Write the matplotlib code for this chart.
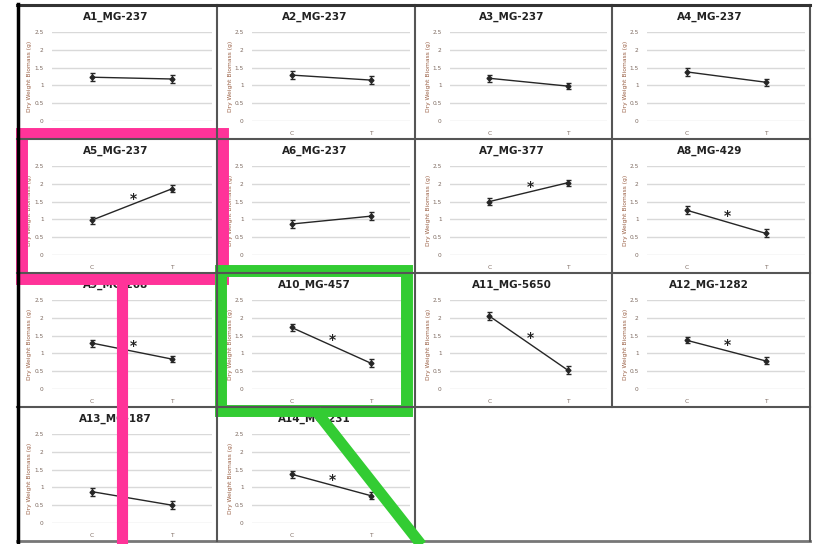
import matplotlib.pyplot as plt
from matplotlib.lines import Line2D
from matplotlib.patches import Rectangle

# dry weight biomass per isolate, control (C) vs treatment (T)
titles = ['A1_MG-237', 'A2_MG-237', 'A3_MG-237', 'A4_MG-237',
          'A5_MG-237', 'A6_MG-237', 'A7_MG-377', 'A8_MG-429',
          'A9_MG-268', 'A10_MG-457', 'A11_MG-5650', 'A12_MG-1282',
          'A13_MG-187', 'A14_MG-231']
control = [1.23, 1.29, 1.20, 1.38, 0.98, 0.87, 1.50, 1.26, 1.29, 1.73, 2.05, 1.37, 0.88, 1.37]
treated = [1.18, 1.15, 0.98, 1.09, 1.86, 1.09, 2.03, 0.61, 0.84, 0.73, 0.53, 0.79, 0.50, 0.77]
control_err = [0.12, 0.11, 0.10, 0.11, 0.10, 0.12, 0.09, 0.11, 0.10, 0.10, 0.12, 0.09, 0.11, 0.10]
treated_err = [0.10, 0.12, 0.09, 0.10, 0.10, 0.11, 0.09, 0.11, 0.09, 0.10, 0.11, 0.10, 0.12, 0.10]
significant = [False, False, False, False, True, False, True, True,
               True, True, True, True, False, True]
groups = ['C', 'T']
yticks = [0, 0.5, 1, 1.5, 2, 2.5]
ytick_labels = ['0', '0.5', '1', '1.5', '2', '2.5']

W, H = 813, 544
fig = plt.figure(figsize=(W / 100, H / 100), dpi=100)

col_x = [17, 217, 415, 612, 810]
row_y = [5, 139, 273, 407, 541]


def px_box(x0, y0, x1, y1):
    return [x0 / W, 1 - y1 / H, (x1 - x0) / W, (y1 - y0) / H]


tick_col = '#7d6a60'
for i, name in enumerate(titles):
    r, c = divmod(i, 4)
    x0, x1 = col_x[c], col_x[c + 1]
    y0 = row_y[r]
    ax = fig.add_axes(px_box(x0 + 35, y0 + 27, x1 - 5, y0 + 116))
    ax.set_xlim(-0.5, 1.5)
    ax.set_ylim(0, 2.5)
    for s in ax.spines.values():
        s.set_visible(False)
    ax.set_yticks(yticks)
    ax.set_yticklabels(ytick_labels)
    ax.set_xticks([0, 1])
    ax.set_xticklabels(groups)
    ax.tick_params(length=0, labelsize=4.2, labelcolor=tick_col, pad=6)
    ax.tick_params(axis='x', pad=7)
    ax.grid(axis='y', color='#d9d9d9', lw=1)
    ax.set_axisbelow(True)
    ax.errorbar([0, 1], [control[i], treated[i]],
                yerr=[control_err[i], treated_err[i]],
                color='#262626', lw=1.0, elinewidth=1, capsize=1.8,
                marker='D', ms=2.5)
    if significant[i]:
        mid = (control[i] + treated[i]) / 2
        ax.text(0.52, mid + 0.15, '*', fontsize=10, fontweight='bold',
                ha='center', va='center', color='#222222')
    fig.text((x0 + x1) / 2 / W - 0.002, 1 - (y0 + 12) / H, name,
             fontsize=7.5, fontweight='bold', ha='center', va='center',
             color='#222222')
    fig.text((x0 + 13) / W, 1 - (y0 + 71) / H, 'Dry Weight Biomass (g)',
             fontsize=4.3, rotation=90, ha='center', va='center',
             color='#9a6045')

# frame, panel dividers and highlight marks
top = fig.add_axes([0, 0, 1, 1], zorder=10)
top.set_xlim(0, W)
top.set_ylim(H, 0)
top.axis('off')
top.patch.set_alpha(0)

grid_col = '#555555'
for yy in row_y[1:4]:
    top.add_line(Line2D([17, 810], [yy, yy], color=grid_col, lw=1.5))
top.add_line(Line2D([17, 810], [541, 541], color='#777777', lw=2))
for xx in col_x[1:4]:
    yb = 541 if xx < 600 else 407
    top.add_line(Line2D([xx, xx], [5, yb], color=grid_col, lw=1.5))
top.add_line(Line2D([810, 810], [5, 541], color=grid_col, lw=1.5))
top.add_line(Line2D([17, 810], [5, 5], color='#333333', lw=2.2))
top.add_line(Line2D([17.5, 17.5], [4, 542], color='black', lw=2.5))

pink = '#ff3399'
green = '#33cc33'
top.add_patch(Rectangle((21.5, 133.5), 201, 145, fill=False, ec=pink, lw=8.6,
                        joinstyle='miter'))
top.add_line(Line2D([121.5, 121.5], [278, 550], color=pink, lw=8.0,
                    solid_capstyle='butt'))
top.add_patch(Rectangle((221, 271), 186, 140, fill=False, ec=green, lw=8.6,
                        joinstyle='miter'))
top.add_line(Line2D([316, 427], [411, 552], color=green, lw=8.0,
                    solid_capstyle='butt'))

fig.savefig('out.png', dpi=100)
